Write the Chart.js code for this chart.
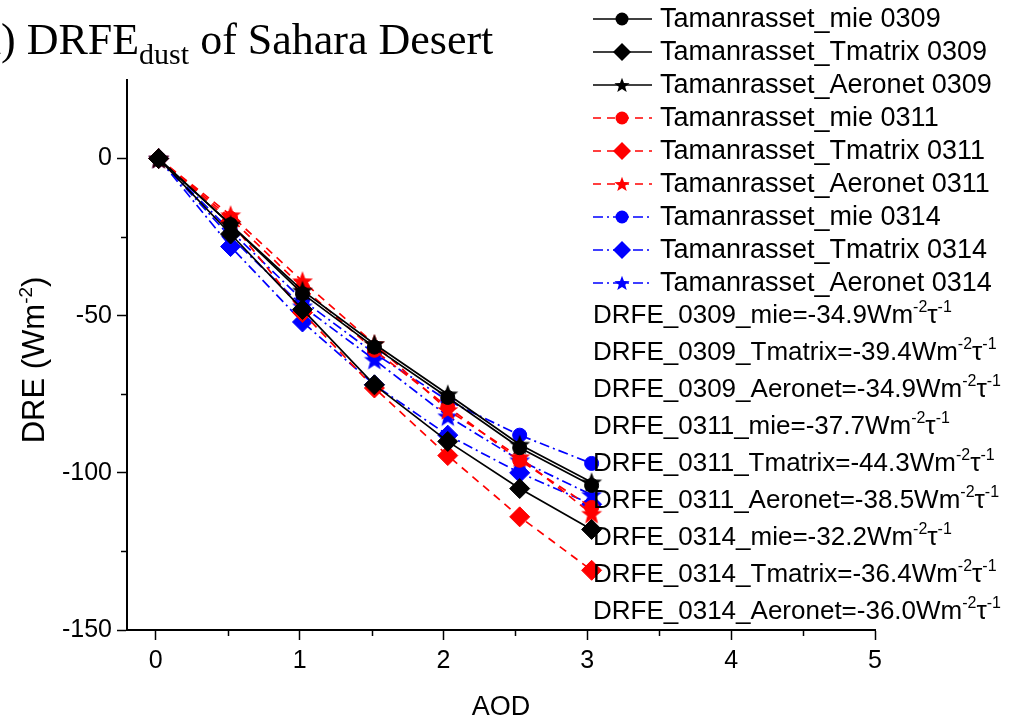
<!DOCTYPE html>
<html>
<head>
<meta charset="utf-8">
<script src="https://cdn.jsdelivr.net/npm/chart.js@4.4.0/dist/chart.umd.min.js"></script>
<style>
  html, body { margin: 0; padding: 0; background: #ffffff; }
  #c { display: block; }
</style>
</head>
<body>
<canvas id="c" width="1016" height="722" style="width:1016px;height:722px"></canvas>
<script>
// AOD positions of the points (same for every run)
const aod = [0.02, 0.52, 1.02, 1.52, 2.03, 2.53, 3.03];

// DRE values (W m-2)
const mie0309     = [0, -21, -43, -60, -76, -92, -104];
const tmatrix0309 = [0, -24, -48, -72, -90, -105, -118];
const aeronet0309 = [0, -21, -42, -59, -75, -91, -103];
const mie0311     = [0, -19, -41, -61, -79, -96, -111];
const tmatrix0311 = [0, -20, -49, -73, -94.5, -114, -131];
const aeronet0311 = [0, -18, -39, -59, -80, -95, -113];
const mie0314     = [0, -23, -45, -62, -77, -88, -97];
const tmatrix0314 = [0, -28, -52, -72, -88, -100, -110];
const aeronet0314 = [0, -25, -47, -64, -82, -96, -107];

const seriesNames = [
    'Tamanrasset_mie 0309', 'Tamanrasset_Tmatrix 0309', 'Tamanrasset_Aeronet 0309',
    'Tamanrasset_mie 0311', 'Tamanrasset_Tmatrix 0311', 'Tamanrasset_Aeronet 0311',
    'Tamanrasset_mie 0314', 'Tamanrasset_Tmatrix 0314', 'Tamanrasset_Aeronet 0314'
];
const seriesValues = [
    mie0309, tmatrix0309, aeronet0309,
    mie0311, tmatrix0311, aeronet0311,
    mie0314, tmatrix0314, aeronet0314
];

// fitted slopes shown under the legend
const drfeLabels = [
    'DRFE_0309_mie=-34.9', 'DRFE_0309_Tmatrix=-39.4', 'DRFE_0309_Aeronet=-34.9',
    'DRFE_0311_mie=-37.7', 'DRFE_0311_Tmatrix=-44.3', 'DRFE_0311_Aeronet=-38.5',
    'DRFE_0314_mie=-32.2', 'DRFE_0314_Tmatrix=-36.4', 'DRFE_0314_Aeronet=-36.0'
];

const xTicks = [0, 1, 2, 3, 4, 5];
const xMinorTicks = [0.5, 1.5, 2.5, 3.5, 4.5];
const yTicks = [0, -50, -100, -150];
const yMinorTicks = [-25, -75, -125];

const SANS = '"Liberation Sans", Arial, sans-serif';
const SERIF = '"Liberation Serif", "Times New Roman", serif';

// line style per date, marker per method
const runColors = ['#000000', '#ff0000', '#0000ff'];
const runDashes = [[], [8, 6], [10, 4, 2, 4]];
const markerKinds = ['circle', 'diamond', 'star'];

/**
 * Filled five point star drawn on a small canvas, used as a point style
 */
function makeStar(size, color) {
    const c = document.createElement('canvas');
    c.width = size;
    c.height = size;
    const g = c.getContext('2d');
    const cx = size / 2, cy = size / 2 + size * 0.04;
    const R = size / 2, r = R * 0.42;
    g.beginPath();
    for (let i = 0; i < 10; i++) {
        const a = -Math.PI / 2 + i * Math.PI / 5;
        const rad = i % 2 ? r : R;
        g.lineTo(cx + rad * Math.cos(a), cy + rad * Math.sin(a));
    }
    g.closePath();
    g.fillStyle = color;
    g.fill();
    return c;
}

const plotStars = runColors.map(c => makeStar(22, c));
const legendStars = runColors.map(c => makeStar(16, c));

const datasets = seriesValues.map((vals, i) => {
    const run = Math.floor(i / 3);
    const kind = markerKinds[i % 3];
    const color = runColors[run];
    let pointStyle = 'circle', radius = 7;
    if (kind === 'diamond') { pointStyle = 'rectRot'; radius = 10; }
    if (kind === 'star') { pointStyle = plotStars[run]; radius = 11; }
    return {
        label: seriesNames[i],
        data: aod.map((x, k) => ({ x: x, y: vals[k] })),
        showLine: true,
        borderColor: color,
        borderWidth: 1.7,
        borderDash: runDashes[run],
        backgroundColor: color,
        pointBackgroundColor: color,
        pointBorderColor: color,
        pointBorderWidth: 1,
        pointStyle: pointStyle,
        pointRadius: radius,
        pointHoverRadius: radius,
        clip: false
    };
});

/**
 * Small marker for the hand drawn legend
 */
function drawMarker(ctx, kind, run, x, y) {
    ctx.fillStyle = runColors[run];
    ctx.beginPath();
    if (kind === 'circle') {
        ctx.arc(x, y, 6.5, 0, Math.PI * 2);
        ctx.fill();
    } else if (kind === 'diamond') {
        const r = 9;
        ctx.moveTo(x - r, y);
        ctx.lineTo(x, y - r);
        ctx.lineTo(x + r, y);
        ctx.lineTo(x, y + r);
        ctx.closePath();
        ctx.fill();
    } else {
        const img = legendStars[run];
        ctx.drawImage(img, x - img.width / 2, y - img.height / 2);
    }
}

// draw a run of text in the sans font, returns the new x
function drawRun(ctx, text, x, y, size) {
    ctx.font = size + 'px ' + SANS;
    ctx.fillText(text, x, y);
    return x + ctx.measureText(text).width;
}

const decor = {
    id: 'decor',
    afterDraw(chart) {
        const ctx = chart.ctx;
        const xs = chart.scales.x, ys = chart.scales.y;
        ctx.save();

        // minor ticks
        ctx.strokeStyle = '#000';
        ctx.lineWidth = 1.5;
        yMinorTicks.forEach(v => {
            const py = Math.round(ys.getPixelForValue(v)) + 0.5;
            ctx.beginPath();
            ctx.moveTo(xs.left - 6, py);
            ctx.lineTo(xs.left, py);
            ctx.stroke();
        });
        xMinorTicks.forEach(v => {
            const px = Math.round(xs.getPixelForValue(v)) + 0.5;
            ctx.beginPath();
            ctx.moveTo(px, ys.bottom);
            ctx.lineTo(px, ys.bottom + 6);
            ctx.stroke();
        });

        // title, the "(a" runs off the left edge as in the original figure
        ctx.fillStyle = '#000';
        ctx.textBaseline = 'alphabetic';
        ctx.font = '44px ' + SERIF;
        let tx = -ctx.measureText('(a').width + 1;
        ctx.fillText('(a) DRFE', tx, 54);
        tx += ctx.measureText('(a) DRFE').width;
        ctx.font = '30px ' + SERIF;
        ctx.fillText('dust', tx, 64);
        tx += ctx.measureText('dust').width;
        ctx.font = '44px ' + SERIF;
        ctx.fillText(' of Sahara Desert', tx, 54);

        // axis titles
        ctx.font = '27px ' + SANS;
        ctx.textAlign = 'center';
        ctx.fillText('AOD', (xs.left + xs.right) / 2, 715);

        ctx.save();
        ctx.translate(44, 360);
        ctx.rotate(-Math.PI / 2);
        ctx.textAlign = 'left';
        const parts = ['DRE (Wm', '-2', ')'];
        ctx.font = '31px ' + SANS;
        const w0 = ctx.measureText(parts[0]).width;
        const w2 = ctx.measureText(parts[2]).width;
        ctx.font = '19px ' + SANS;
        const w1 = ctx.measureText(parts[1]).width;
        let ax = -(w0 + w1 + w2) / 2;
        ax = drawRun(ctx, parts[0], ax, 0, 31);
        ax = drawRun(ctx, parts[1], ax, -12, 19);
        drawRun(ctx, parts[2], ax, 0, 31);
        ctx.restore();

        // legend rows
        ctx.textAlign = 'left';
        ctx.textBaseline = 'middle';
        seriesNames.forEach((name, i) => {
            const run = Math.floor(i / 3);
            const y = 19 + i * 33;
            ctx.strokeStyle = runColors[run];
            ctx.lineWidth = 1.6;
            ctx.setLineDash(runDashes[run]);
            ctx.beginPath();
            ctx.moveTo(593, y);
            ctx.lineTo(652, y);
            ctx.stroke();
            ctx.setLineDash([]);
            drawMarker(ctx, markerKinds[i % 3], run, 622, y);
            ctx.fillStyle = '#000';
            ctx.font = '27px ' + SANS;
            ctx.fillText(name, 660, y + 1);
        });

        // slope annotations
        ctx.textBaseline = 'alphabetic';
        ctx.fillStyle = '#000';
        drfeLabels.forEach((txt, i) => {
            const y = 323 + i * 37;
            let x = 593;
            x = drawRun(ctx, txt + 'Wm', x, y, 26);
            x = drawRun(ctx, '-2', x, y - 11, 16);
            x = drawRun(ctx, 'τ', x, y, 26);
            drawRun(ctx, '-1', x, y - 11, 16);
        });

        ctx.restore();
    }
};

const canvas = document.getElementById('c');
const chart = new Chart(canvas.getContext('2d'), {
    type: 'scatter',
    data: { datasets: datasets },
    options: {
        responsive: false,
        animation: false,
        devicePixelRatio: 1,
        layout: { padding: { left: 0, top: 80, right: 141, bottom: 0 } },
        plugins: {
            legend: { display: false },
            tooltip: { enabled: false }
        },
        scales: {
            x: {
                type: 'linear',
                min: -0.2,
                max: 5,
                afterBuildTicks: (s) => { s.ticks = xTicks.map(v => ({ value: v })); },
                afterFit: (s) => { s.height = 92; },
                grid: { drawOnChartArea: false, tickLength: 10, tickColor: '#000', tickWidth: 1.5 },
                border: { color: '#000', width: 2 },
                ticks: {
                    color: '#000',
                    padding: 6,
                    maxRotation: 0,
                    font: { family: SANS, size: 25 }
                }
            },
            y: {
                type: 'linear',
                min: -150,
                max: 25,
                afterBuildTicks: (s) => { s.ticks = yTicks.map(v => ({ value: v })); },
                afterFit: (s) => { s.width = 127; },
                grid: { drawOnChartArea: false, tickLength: 10, tickColor: '#000', tickWidth: 1.5 },
                border: { color: '#000', width: 2 },
                ticks: {
                    color: '#000',
                    padding: 5,
                    font: { family: SANS, size: 25 }
                }
            }
        }
    },
    plugins: [decor]
});
</script>
</body>
</html>
